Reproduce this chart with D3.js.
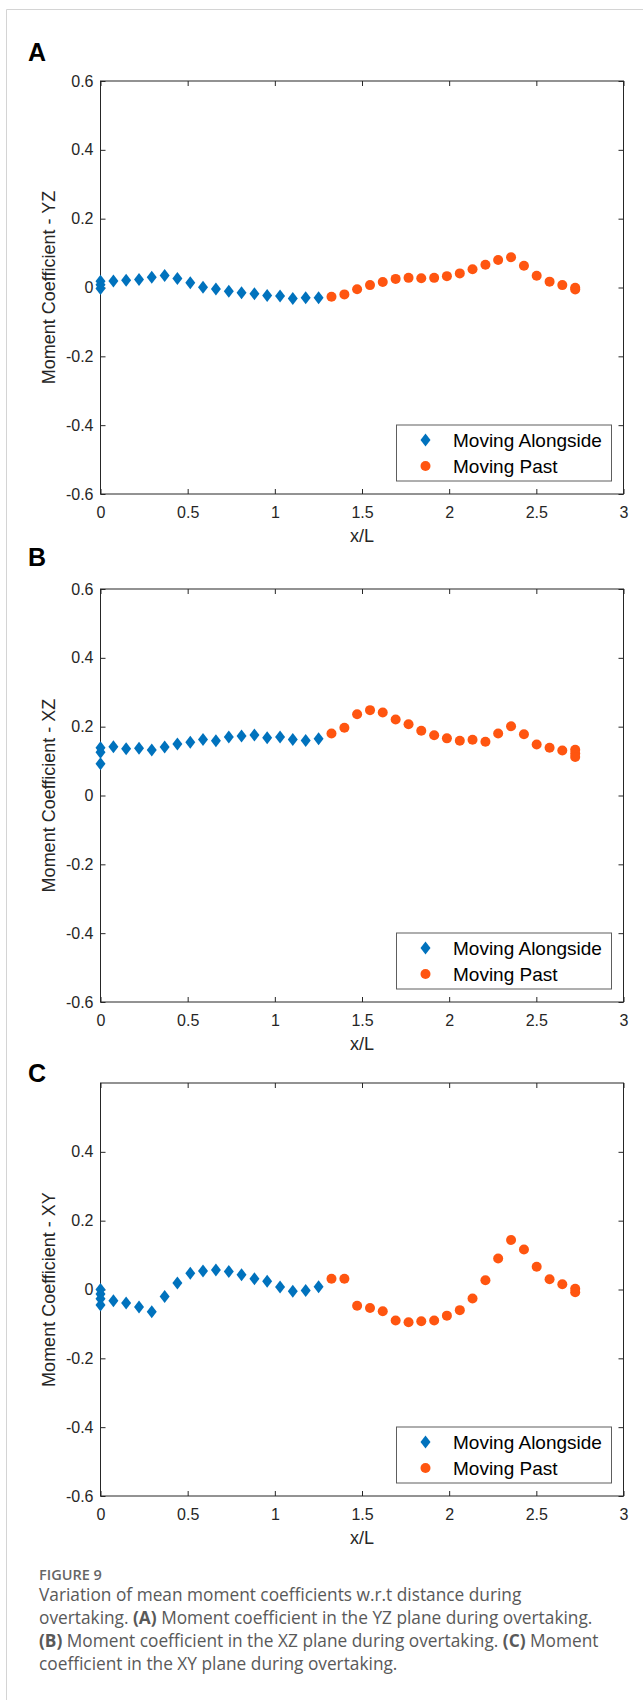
<!DOCTYPE html>
<html>
<head>
<meta charset="utf-8">
<script src="https://d3js.org/d3.v7.min.js"></script>
<style>
  body { margin: 0; background: #fff; }
  svg { display: block; }
</style>
</head>
<body>
<svg width="643" height="1700"></svg>
<script>
// x/L positions (shared by all three panels)
var xAlong = [0, 0.074, 0.147, 0.221, 0.294, 0.368, 0.441, 0.515, 0.588, 0.662,
              0.736, 0.809, 0.883, 0.956, 1.030, 1.103, 1.177, 1.251];
var xPast = [1.325, 1.399, 1.472, 1.546, 1.619, 1.693, 1.767, 1.840, 1.914, 1.987,
             2.061, 2.134, 2.208, 2.281, 2.355, 2.429, 2.502, 2.576, 2.649, 2.723];

// (A) YZ
var yzAlong = [0.018, 0.019, 0.021, 0.023, 0.030, 0.035, 0.026, 0.014, 0.001, -0.004,
               -0.011, -0.015, -0.018, -0.023, -0.025, -0.032, -0.030, -0.030];
var yzPast = [-0.027, -0.020, -0.005, 0.007, 0.016, 0.025, 0.028, 0.027, 0.028, 0.033,
              0.041, 0.053, 0.066, 0.080, 0.088, 0.063, 0.034, 0.017, 0.007, -0.001];
var yzStart = [0.008, -0.003];   // extra points stacked at x = 0
var yzEnd = [-0.006];            // extra points stacked at the last x

// (B) XZ
var xzAlong = [0.139, 0.1415, 0.136, 0.137, 0.132, 0.141, 0.150, 0.155, 0.163, 0.159,
               0.170, 0.173, 0.176, 0.168, 0.170, 0.163, 0.160, 0.165];
var xzPast = [0.180, 0.197, 0.236, 0.248, 0.241, 0.221, 0.207, 0.188, 0.175, 0.166,
              0.159, 0.162, 0.156, 0.180, 0.201, 0.178, 0.148, 0.139, 0.131, 0.133];
var xzStart = [0.126, 0.092];
var xzEnd = [0.122, 0.112];

// (C) XY
var xyAlong = [0.000, -0.033, -0.039, -0.051, -0.065, -0.020, 0.019, 0.047, 0.054, 0.057,
               0.052, 0.043, 0.031, 0.024, 0.007, -0.005, -0.003, 0.008];
var xyPast = [0.031, 0.031, -0.047, -0.054, -0.063, -0.090, -0.095, -0.092, -0.090, -0.076,
              -0.060, -0.026, 0.027, 0.090, 0.144, 0.116, 0.066, 0.030, 0.015, 0.002];
var xyStart = [-0.013, -0.027, -0.045];
var xyEnd = [-0.008];

var xTicks = [0, 0.5, 1, 1.5, 2, 2.5, 3];
var yTicksFull = [-0.6, -0.4, -0.2, 0, 0.2, 0.4, 0.6];
var yTicksC = [-0.6, -0.4, -0.2, 0, 0.2, 0.4];
var seriesNames = ["Moving Alongside", "Moving Past"];

var panels = [
    {letter: "A", label: "Moment Coefficient - YZ", top: 81, letterY: 61,
     along: yzAlong, past: yzPast, start: yzStart, end: yzEnd, ticks: yTicksFull},
    {letter: "B", label: "Moment Coefficient - XZ", top: 589, letterY: 566,
     along: xzAlong, past: xzPast, start: xzStart, end: xzEnd, ticks: yTicksFull},
    {letter: "C", label: "Moment Coefficient - XY", top: 1083, letterY: 1082,
     along: xyAlong, past: xyPast, start: xyStart, end: xyEnd, ticks: yTicksC}
];

var blue = "#0072BD",
    orange = "#FF5510",
    axisCol = "#262626",
    mFont = "'Liberation Sans', Arial, Helvetica, sans-serif";

var left = 100.5, right = 623.5, plotH = 413;
var diamond = "M0,-6.5L5,0L0,6.5L-5,0Z";

var svg = d3.select("svg");

// light page frame
svg.append("path")
    .attr("d", "M6.5,1700V9.5H643")
    .attr("fill", "none")
    .attr("stroke", "#d4d4d4")
    .attr("stroke-width", 1);

var x = d3.scaleLinear().domain([0, 3]).range([left, right]);

function fmt(d) {
    return d === 0 ? "0" : String(+d.toFixed(1));
}

panels.forEach(function(p) {
    var bottom = p.top + plotH;
    var y = d3.scaleLinear().domain([-0.6, 0.6]).range([bottom, p.top]);
    var g = svg.append("g");

    g.append("text")
        .attr("x", 28)
        .attr("y", p.letterY)
        .style("font-family", "'Liberation Sans', Arial, sans-serif")
        .style("font-weight", "bold")
        .style("font-size", "25px")
        .style("fill", "#000")
        .text(p.letter);

    // axes (ticks inside, MATLAB box style)
    g.append("g")
        .attr("transform", "translate(0," + bottom + ")")
        .call(d3.axisBottom(x).tickValues(xTicks).tickSize(-5).tickPadding(12.5).tickFormat(fmt));
    g.append("g")
        .attr("transform", "translate(0," + p.top + ")")
        .call(d3.axisTop(x).tickValues(xTicks).tickSize(-5).tickFormat(""));
    g.append("g")
        .attr("transform", "translate(" + left + ",0)")
        .call(d3.axisLeft(y).tickValues(p.ticks).tickSize(-5).tickPadding(7).tickFormat(fmt));
    g.append("g")
        .attr("transform", "translate(" + right + ",0)")
        .call(d3.axisRight(y).tickValues(p.ticks).tickSize(-5).tickFormat(""));

    g.selectAll(".domain").remove();
    g.selectAll(".tick line").attr("stroke", axisCol);
    g.selectAll(".tick text")
        .attr("font-family", mFont)
        .attr("font-size", 16)
        .style("font-family", mFont)
        .style("font-size", "16px")
        .attr("fill", axisCol);

    g.append("rect")
        .attr("x", left)
        .attr("y", p.top)
        .attr("width", right - left)
        .attr("height", plotH)
        .attr("fill", "none")
        .attr("stroke", axisCol)
        .attr("stroke-width", 1);

    g.append("text")
        .attr("x", (left + right) / 2)
        .attr("y", bottom + 48)
        .attr("text-anchor", "middle")
        .style("font-family", mFont)
        .style("font-size", "18px")
        .style("fill", axisCol)
        .text("x/L");

    g.append("text")
        .attr("transform", "translate(55," + (p.top + plotH / 2) + ") rotate(-90)")
        .attr("text-anchor", "middle")
        .style("font-family", mFont)
        .style("font-size", "18px")
        .style("fill", axisCol)
        .text(p.label);

    // data
    var alongPts = xAlong.map(function(d, i) { return [d, p.along[i]]; })
        .concat(p.start.map(function(v) { return [xAlong[0], v]; }));
    var pastPts = xPast.map(function(d, i) { return [d, p.past[i]]; })
        .concat(p.end.map(function(v) { return [xPast[xPast.length - 1], v]; }));

    g.append("g").selectAll("path")
        .data(alongPts)
        .enter().append("path")
        .attr("d", diamond)
        .attr("transform", function(d) {
            return "translate(" + x(d[0]) + "," + y(d[1]) + ")";
        })
        .attr("fill", blue);

    g.append("g").selectAll("circle")
        .data(pastPts)
        .enter().append("circle")
        .attr("cx", function(d) { return x(d[0]); })
        .attr("cy", function(d) { return y(d[1]); })
        .attr("r", 5)
        .attr("fill", orange);

    // legend
    var lg = g.append("g").attr("transform", "translate(396.5," + (bottom - 69) + ")");
    lg.append("rect")
        .attr("width", 215)
        .attr("height", 56)
        .attr("fill", "#fff")
        .attr("stroke", "#5e5e5e")
        .attr("stroke-width", 1);
    lg.append("path")
        .attr("d", diamond)
        .attr("transform", "translate(29,15)")
        .attr("fill", blue);
    lg.append("circle")
        .attr("cx", 29)
        .attr("cy", 41)
        .attr("r", 5)
        .attr("fill", orange);
    lg.selectAll(".lt")
        .data(seriesNames)
        .enter().append("text")
        .attr("x", 56.5)
        .attr("y", function(d, i) { return 15 + i * 26; })
        .attr("dy", "0.36em")
        .style("font-family", mFont)
        .style("font-size", "19px")
        .style("fill", "#000")
        .text(function(d) { return d; });
});

// caption
var cap = svg.append("g")
    .style("font-family", "'Open Sans', 'Noto Sans', sans-serif")
    .style("fill", "#595959");

cap.append("text")
    .attr("x", 39)
    .attr("y", 1580)
    .style("font-size", "14.5px")
    .style("font-weight", "600")
    .style("fill", "#666")
    .text("FIGURE 9");

var capLines = [
    [["Variation of mean moment coefficients w.r.t distance during", false]],
    [["overtaking. ", false], ["(A)", true], [" Moment coefficient in the YZ plane during overtaking.", false]],
    [["(B)", true], [" Moment coefficient in the XZ plane during overtaking. ", false], ["(C)", true], [" Moment", false]],
    [["coefficient in the XY plane during overtaking.", false]]
];
var capY = [1601, 1624, 1647, 1670];

capLines.forEach(function(line, i) {
    var t = cap.append("text")
        .attr("x", 39)
        .attr("y", capY[i])
        .style("font-size", "17.3px")
        .attr("xml:space", "preserve");
    line.forEach(function(seg) {
        t.append("tspan")
            .style("font-weight", seg[1] ? "bold" : "normal")
            .text(seg[0]);
    });
});
</script>
</body>
</html>
